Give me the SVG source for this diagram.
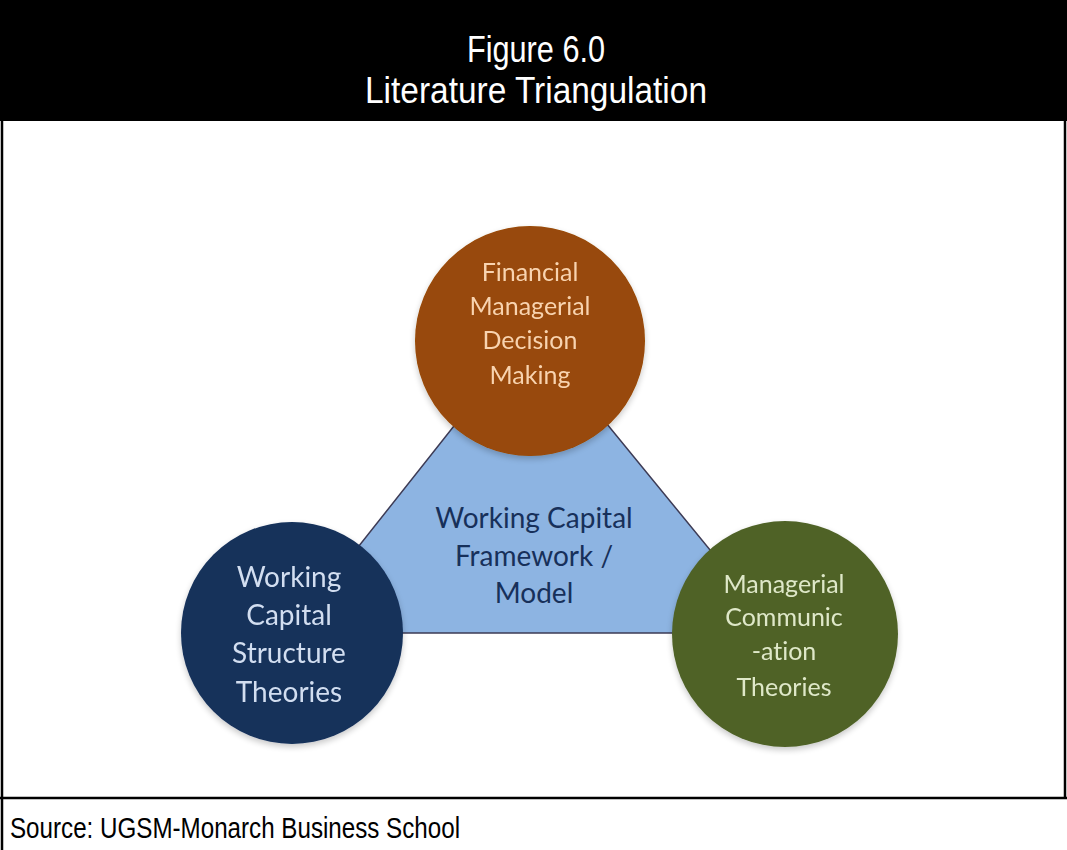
<svg xmlns="http://www.w3.org/2000/svg" width="1067" height="850" viewBox="0 0 1067 850">
  <style>
    .frame { stroke: #000; stroke-width: 2.5; fill: none; }
    .title { font-family: "Liberation Sans", Arial, sans-serif; font-size: 36px; fill: #fff; text-anchor: middle; }
    .source { font-family: "Liberation Sans", Arial, sans-serif; font-size: 30px; fill: #000; }
    .lbl { font-family: Lato, "Open Sans", sans-serif; text-anchor: middle; font-variant-ligatures: none; }
    .top-txt { font-size: 25px; fill: #f8d3b0; }
    .left-txt { font-size: 28px; fill: #d2def0; }
    .right-txt { font-size: 25px; fill: #dfe8c8; }
    .mid-txt { font-size: 28px; fill: #17305a; }
  </style>
  <defs>
    <filter id="soft" x="-20%" y="-20%" width="140%" height="150%">
      <feGaussianBlur in="SourceAlpha" stdDeviation="3"/>
      <feOffset dy="3"/>
      <feComponentTransfer><feFuncA type="linear" slope="0.22"/></feComponentTransfer>
      <feMerge><feMergeNode/><feMergeNode in="SourceGraphic"/></feMerge>
    </filter>
  </defs>

  <!-- page frame -->
  <rect x="0" y="0" width="1067" height="121" fill="#000"/>
  <g id="frame">
    <line class="frame" x1="2" y1="0" x2="2" y2="850"/>
    <line class="frame" x1="1065" y1="0" x2="1065" y2="798"/>
    <line class="frame" x1="0" y1="798" x2="1067" y2="798"/>
  </g>
  <text class="title" x="536" y="62" textLength="138" lengthAdjust="spacingAndGlyphs">Figure 6.0</text>
  <text class="title" x="536" y="103" textLength="342" lengthAdjust="spacingAndGlyphs">Literature Triangulation</text>
  <text class="source" x="10" y="838" textLength="450" lengthAdjust="spacingAndGlyphs">Source: UGSM-Monarch Business School</text>

  <!-- central triangle -->
  <g id="framework">
    <polygon points="530,330 290,633 778,633" fill="#8db4e2" stroke="#3d3b55" stroke-width="1.5" stroke-linejoin="round"/>
    <text class="lbl mid-txt" x="534" y="528">Working Capital</text>
    <text class="lbl mid-txt" x="534" y="566">Framework /</text>
    <text class="lbl mid-txt" x="534" y="603">Model</text>
  </g>

  <g id="financial" filter="url(#soft)">
    <circle cx="530" cy="341" r="115" fill="#984807"/>
    <text class="lbl top-txt" x="530" y="281">Financial</text>
    <text class="lbl top-txt" x="530" y="315">Managerial</text>
    <text class="lbl top-txt" x="530" y="349">Decision</text>
    <text class="lbl top-txt" x="530" y="384">Making</text>
  </g>

  <g id="structure" filter="url(#soft)">
    <circle cx="292" cy="633" r="111" fill="#14305a"/>
    <text class="lbl left-txt" x="289" y="587">Working</text>
    <text class="lbl left-txt" x="289" y="625">Capital</text>
    <text class="lbl left-txt" x="289" y="663">Structure</text>
    <text class="lbl left-txt" x="289" y="702">Theories</text>
  </g>

  <g id="communication" filter="url(#soft)">
    <circle cx="785" cy="634" r="113" fill="#4f6228"/>
    <text class="lbl right-txt" x="784" y="593">Managerial</text>
    <text class="lbl right-txt" x="784" y="626">Communic</text>
    <text class="lbl right-txt" x="784" y="660">-ation</text>
    <text class="lbl right-txt" x="784" y="696">Theories</text>
  </g>
</svg>
